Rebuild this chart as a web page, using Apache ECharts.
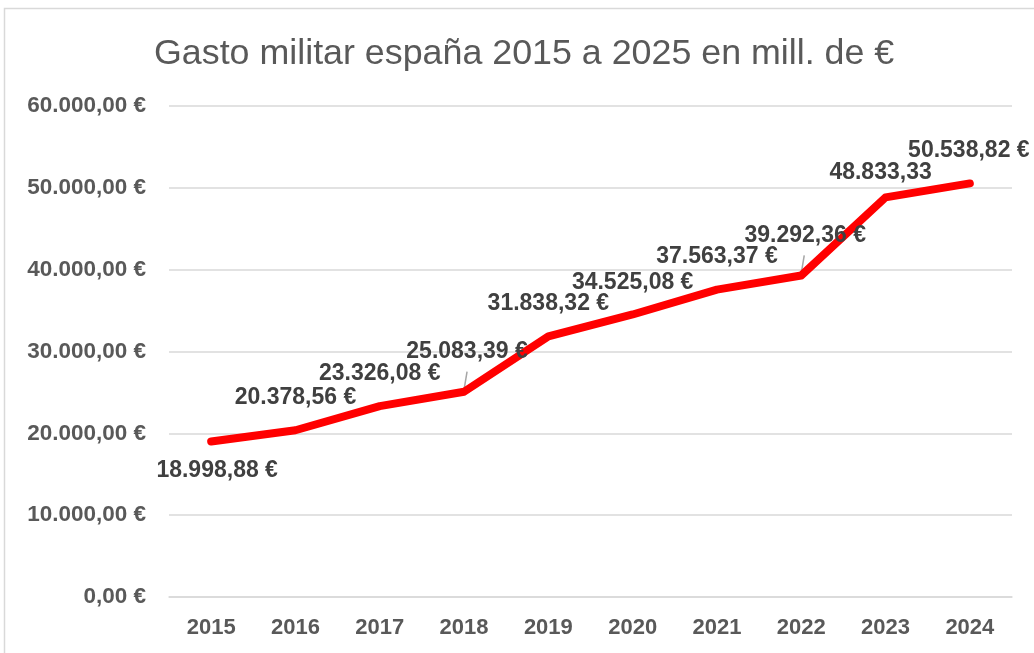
<!DOCTYPE html>
<html><head><meta charset="utf-8">
<script src="https://cdn.jsdelivr.net/npm/echarts@6/dist/echarts.min.js"></script>
<style>html,body{margin:0;padding:0;background:#fff}#c{width:1034px;height:653px}</style>
</head><body><div id="c"></div>
<script>
const years = ['2015','2016','2017','2018','2019','2020','2021','2022','2023','2024'];
const spending = [18998.88, 20378.56, 23326.08, 25083.39, 31838.32, 34525.08, 37563.37, 39292.36, 48833.33, 50538.82];
const euroSuffix = [true, true, true, true, true, true, true, true, false, true];
const leaderYears = ['2018', '2022'];

function fmt(v, dec) {
  const parts = v.toFixed(dec).split('.');
  const int = parts[0].replace(/\B(?=(\d{3})+(?!\d))/g, '.');
  return parts[1] !== undefined ? int + ',' + parts[1] : int;
}

const labelOffsets = [[6, 29], [0, -33], [0, -32], [3, -40], [0, -33], [0, -32], [0, -33], [4, -40], [-5, -25], [-1, -33]];

const chart = echarts.init(document.getElementById('c'), null, {renderer: 'canvas'});
const labelFont = '"Liberation Sans", Arial, sans-serif';
chart.setOption({
  animation: false,
  title: {
    text: 'Gasto militar españa 2015 a 2025 en mill. de €',
    left: 149, top: 31,
    textStyle: {fontFamily: '"Liberation Sans", sans-serif', fontSize: 35.8, fontWeight: 'normal', color: '#595959'}
  },
  graphic: [{type: 'rect', shape: {x: 4.5, y: 8.5, width: 1040, height: 660}, style: {fill: 'none', stroke: '#d9d9d9', lineWidth: 1.5}, silent: true}],
  grid: {left: 169, right: 22, top: 106, bottom: 56, containLabel: false},
  xAxis: {
    type: 'category', data: years, boundaryGap: true,
    axisLine: {show: true, lineStyle: {color: '#d9d9d9', width: 1.5}},
    axisTick: {show: false},
    axisLabel: {margin: 20, color: '#595959', fontFamily: labelFont, fontWeight: 'bold', fontSize: 22}
  },
  yAxis: {
    type: 'value', min: 0, max: 60000, interval: 10000,
    axisLine: {show: false}, axisTick: {show: false},
    splitLine: {lineStyle: {color: '#d9d9d9', width: 1.5}},
    axisLabel: {margin: 23, color: '#595959', fontFamily: labelFont, fontWeight: 'bold', fontSize: 22.5,
      formatter: v => fmt(v, 2) + ' €'}
  },
  series: [{
    type: 'custom',
    data: leaderYears.map(y => [y, spending[years.indexOf(y)]]),
    renderItem: (params, api) => {
      const p = api.coord([api.value(0), api.value(1)]);
      return {type: 'line', shape: {x1: p[0], y1: p[1] - 2, x2: p[0] + 3, y2: p[1] - 20},
        style: {stroke: '#a6a6a6', lineWidth: 1.5}};
    },
    z: 2, silent: true
  }, {
    type: 'line',
    data: spending,
    symbol: 'circle', symbolSize: 0, showSymbol: true,
    itemStyle: {color: 'rgba(255,0,0,0)', borderWidth: 0},
    lineStyle: {color: '#ff0000', width: 8, cap: 'round', join: 'round'},
    label: {
      show: true, position: 'inside', color: '#404040', opacity: 1, fontFamily: labelFont, fontWeight: 'bold', fontSize: 23,
      formatter: p => fmt(p.value, 2) + (euroSuffix[p.dataIndex] ? ' €' : '')
    },
    labelLayout: p => ({dx: labelOffsets[p.dataIndex][0], dy: labelOffsets[p.dataIndex][1]}),
    z: 3
  }]
});
</script></body></html>
